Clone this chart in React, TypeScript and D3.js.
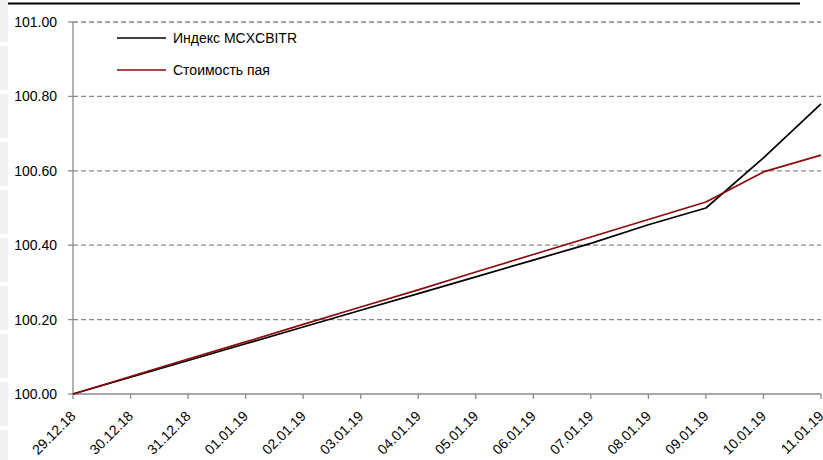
import React from "react";
import * as d3 from "d3";

const dates = ["29.12.18","30.12.18","31.12.18","01.01.19","02.01.19","03.01.19","04.01.19","05.01.19","06.01.19","07.01.19","08.01.19","09.01.19","10.01.19","11.01.19"];
const indexValues = [100.0,100.045,100.09,100.135,100.18,100.225,100.27,100.315,100.36,100.405,100.455,100.5,100.635,100.78];
const fundValues = [100.0,100.047,100.094,100.14,100.187,100.234,100.28,100.328,100.375,100.422,100.469,100.516,100.597,100.642];
const yTicks = [100.0,100.2,100.4,100.6,100.8,101.0];
const seriesNames = ["Индекс MCXCBITR","Стоимость пая"];
const seriesColors = ["#000000","#8B0A0A"];

const W = 823, H = 460;
const left = 73, right = 821, top = 22, bottom = 394;

export default function App() {
  const x = d3.scalePoint<string>().domain(dates).range([left, right]);
  const y = d3.scaleLinear().domain([100, 101]).range([bottom, top]);
  const line = d3.line<number>().x((_, i) => x(dates[i]) as number).y(d => y(d));
  const series = [indexValues, fundValues];
  const font = "'Liberation Sans', Arial, sans-serif";
  const blocks = d3.range(10);
  return (
    <div style={{ position: "absolute", left: 0, top: 0 }}>
      <svg width={W} height={H} style={{ display: "block", background: "#fff" }} fontFamily={font}>
        {blocks.map(i => (
          <rect key={i} x={0} y={i * 48 - 2} width={8} height={44} fill="#f0f0f0" />
        ))}
        <line x1={8} x2={800} y1={3.5} y2={3.5} stroke="#000" strokeWidth={2} />
        {yTicks.map(t => (
          <g key={t}>
            {t > 100 && (
              <line x1={left} x2={right} y1={y(t)} y2={y(t)} stroke="#8a8a8a" strokeWidth={1.3} strokeDasharray="5,3" />
            )}
            <line x1={left - 5} x2={left} y1={y(t)} y2={y(t)} stroke="#8a8a8a" strokeWidth={1.3} />
            <text x={57} y={y(t)} dy="0.35em" textAnchor="end" fontSize={14} fill="#000">{t.toFixed(2)}</text>
          </g>
        ))}
        <line x1={left} x2={left} y1={top} y2={bottom} stroke="#8a8a8a" strokeWidth={1.3} />
        <line x1={left} x2={right} y1={bottom} y2={bottom} stroke="#8a8a8a" strokeWidth={1.3} />
        {dates.map(d => (
          <g key={d}>
            <line x1={x(d)} x2={x(d)} y1={bottom} y2={bottom + 5} stroke="#8a8a8a" strokeWidth={1.3} />
            <text transform={`translate(${(x(d) as number) + 3.5},${bottom + 23}) rotate(-45)`} textAnchor="end" fontSize={14} fill="#000">{d}</text>
          </g>
        ))}
        {series.map((s, i) => (
          <path key={i} d={line(s) || ""} fill="none" stroke={seriesColors[i]} strokeWidth={1.7} strokeLinejoin="round" />
        ))}
        {seriesNames.map((n, i) => (
          <g key={n}>
            <line x1={117} x2={166} y1={38 + i * 32} y2={38 + i * 32} stroke={seriesColors[i]} strokeWidth={1.7} />
            <text x={173} y={38 + i * 32} dy="0.35em" fontSize={14} fill="#000">{n}</text>
          </g>
        ))}
      </svg>
    </div>
  );
}
